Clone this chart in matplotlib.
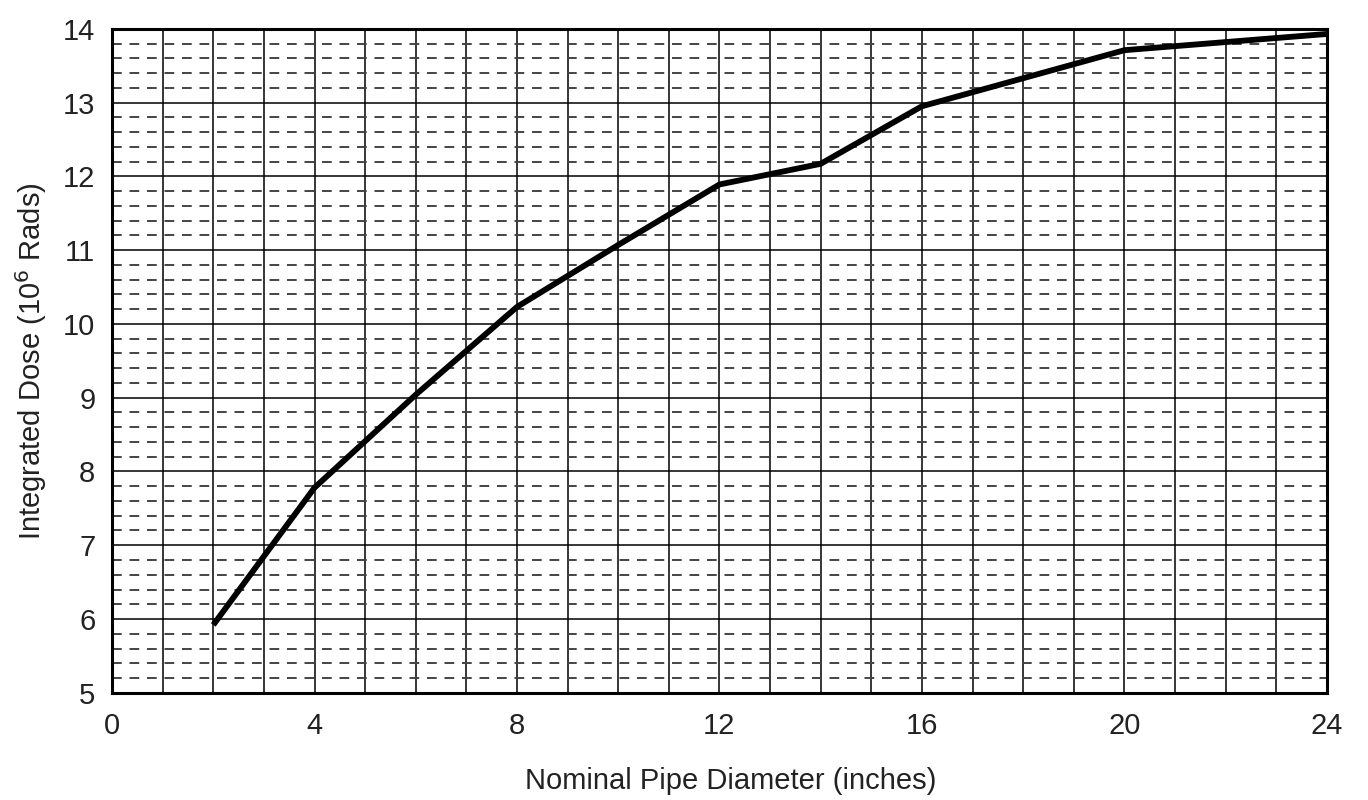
import numpy as np
from matplotlib import pyplot as plt
from matplotlib.ticker import MultipleLocator

# Данные
pipe_diameter = [2, 4, 6, 8, 10, 12, 14, 16, 20, 24]
integrated_dose = [5.92, 7.78, 9.04, 10.23, 11.07, 11.89, 12.17, 12.95, 13.71, 13.93]
x_ticks = [0, 4, 8, 12, 16, 20, 24]
y_ticks = [5, 6, 7, 8, 9, 10, 11, 12, 13, 14]

plt.rcParams['font.family'] = ['Liberation Sans', 'DejaVu Sans']

fig = plt.figure(figsize=(13.68, 8), dpi=100)
ax = fig.add_axes([0.0819, 0.134, 0.888, 0.830])

ax.set_xlim(0, 24)
ax.set_ylim(5, 14)
ax.set_xticks(x_ticks)
ax.set_yticks(y_ticks)
ax.xaxis.set_minor_locator(MultipleLocator(1))
ax.yaxis.set_minor_locator(MultipleLocator(0.2))

# Сетка: сплошные вертикальные и основные горизонтальные, пунктир для мелких
ax.grid(which='major', axis='both', color='black', linewidth=1.1, linestyle='-')
ax.grid(which='minor', axis='x', color='black', linewidth=1.1, linestyle='-')
ax.grid(which='minor', axis='y', color='#444444', linewidth=1.4, linestyle=(0, (5, 4)))
ax.set_axisbelow(True)

ax.plot(pipe_diameter, integrated_dose, color='black', linewidth=4.2, solid_capstyle='butt', zorder=3)

for spine in ax.spines.values():
    spine.set_linewidth(2.2)

ax.tick_params(which='both', length=0, labelsize=21, labelcolor='#222222')
ax.tick_params(axis='x', pad=14)
ax.tick_params(axis='y', pad=12)

ax.set_xlabel('Nominal Pipe Diameter (inches)', fontsize=21, color='#222222')
ax.set_ylabel('Integrated Dose (10$^6$ Rads)', fontsize=21, labelpad=10, color='#222222')
ax.xaxis.set_label_coords(0.509, -0.112)

fig.savefig('out.png', dpi=100)
